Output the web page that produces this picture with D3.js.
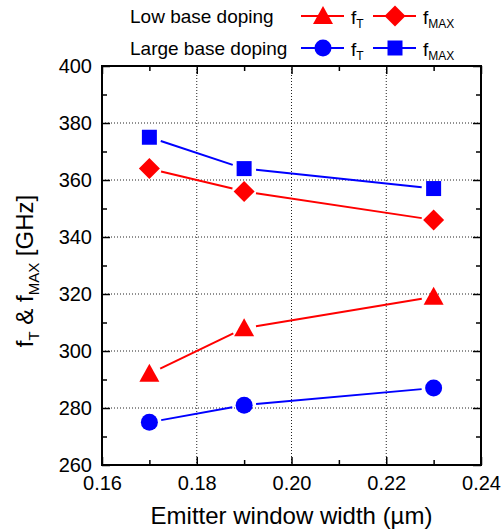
<!DOCTYPE html>
<html>
<head>
<meta charset="utf-8">
<script src="https://cdn.jsdelivr.net/npm/d3@7"></script>
<style>
  html, body { margin: 0; padding: 0; background: #fff; }
  svg { display: block; font-family: "Liberation Sans", Arial, sans-serif; }
</style>
</head>
<body>
<svg id="chart" width="502" height="532"></svg>
<script>
// Emitter window widths (µm)
const widths = [0.17, 0.19, 0.23];
// Cut-off and max oscillation frequencies (GHz)
const fTLow = [292, 308, 319];
const fMaxLow = [364, 356, 346];
const fTLarge = [275, 281, 287];
const fMaxLarge = [375, 364, 357];

const xTicks = [0.16, 0.18, 0.20, 0.22, 0.24];
const xMinor = [0.17, 0.19, 0.21, 0.23];
const yTicks = [260, 280, 300, 320, 340, 360, 380, 400];
const yMinor = [270, 290, 310, 330, 350, 370, 390];

const RED = "#ff0000", BLUE = "#0000ff";

const series = [
  { values: fTLow, color: RED, shape: "triangle" },
  { values: fMaxLow, color: RED, shape: "diamond" },
  { values: fTLarge, color: BLUE, shape: "circle" },
  { values: fMaxLarge, color: BLUE, shape: "square" }
];

const svg = d3.select("#chart");
const L = 102, R = 481, T = 66, B = 465;

const x = d3.scaleLinear().domain([0.16, 0.24]).range([L, R]);
const y = d3.scaleLinear().domain([260, 400]).range([B, T]);

// dotted grid at the interior major ticks
const grid = svg.append("g").attr("stroke", "#222").attr("stroke-width", 1)
  .attr("stroke-dasharray", "1,2").attr("fill", "none");
xTicks.slice(1, -1).forEach(v => {
  grid.append("line").attr("x1", x(v)).attr("x2", x(v)).attr("y1", T).attr("y2", B);
});
yTicks.slice(1, -1).forEach(v => {
  grid.append("line").attr("x1", L).attr("x2", R).attr("y1", y(v)).attr("y2", y(v));
});

// axes with inward ticks on all four sides
function axisGroup(axis, tx, ty) {
  const g = svg.append("g").attr("transform", `translate(${tx},${ty})`).call(axis);
  g.select(".domain").remove();
  g.selectAll("line").attr("stroke", "#000").attr("stroke-width", 1.5);
  return g;
}
const fmtX = d3.format(".2f");

// bottom
const gxB = axisGroup(d3.axisBottom(x).tickValues(xTicks).tickSize(-8).tickPadding(0).tickFormat(fmtX), 0, B);
gxB.selectAll("text").attr("font-size", 20).attr("fill", "#000")
  .attr("y", 25).attr("dy", 0).attr("font-family", "Liberation Sans, Arial, sans-serif");
axisGroup(d3.axisBottom(x).tickValues(xMinor).tickSize(-5).tickFormat(""), 0, B);
// top
axisGroup(d3.axisTop(x).tickValues(xTicks).tickSize(-8).tickFormat(""), 0, T);
axisGroup(d3.axisTop(x).tickValues(xMinor).tickSize(-5).tickFormat(""), 0, T);
// left
const gyL = axisGroup(d3.axisLeft(y).tickValues(yTicks).tickSize(-8).tickPadding(10), L, 0);
gyL.selectAll("text").attr("font-size", 20).attr("fill", "#000")
  .attr("x", -10).attr("font-family", "Liberation Sans, Arial, sans-serif");
axisGroup(d3.axisLeft(y).tickValues(yMinor).tickSize(-5).tickFormat(""), L, 0);
// right
axisGroup(d3.axisRight(y).tickValues(yTicks).tickSize(-8).tickFormat(""), R, 0);
axisGroup(d3.axisRight(y).tickValues(yMinor).tickSize(-5).tickFormat(""), R, 0);

// frame
svg.append("rect").attr("x", L).attr("y", T).attr("width", R - L).attr("height", B - T)
  .attr("fill", "none").attr("stroke", "#000").attr("stroke-width", 2);

// marker shapes centred on (0,0)
function markerPath(shape) {
  switch (shape) {
    case "triangle": return "M0,-10 L10,8 L-10,8 Z";
    case "diamond": return "M0,-10.5 L10.5,0 L0,10.5 L-10.5,0 Z";
    case "square": return "M-7.5,-7.5 H7.5 V7.5 H-7.5 Z";
    default: return null;
  }
}
function drawMarker(g, shape, cx, cy, color) {
  if (shape === "circle") {
    g.append("circle").attr("cx", cx).attr("cy", cy).attr("r", 8.5).attr("fill", color);
  } else {
    const dy = shape === "triangle" ? 0 : 0;
    g.append("path").attr("d", markerPath(shape))
      .attr("transform", `translate(${cx},${cy + dy})`).attr("fill", color);
  }
}

// data lines (segments stop short of the markers) and markers
const plot = svg.append("g");
const GAP = 12;
series.forEach(s => {
  const pts = widths.map((w, i) => [x(w), y(s.values[i])]);
  for (let i = 0; i < pts.length - 1; i++) {
    const [x1, y1] = pts[i], [x2, y2] = pts[i + 1];
    const len = Math.hypot(x2 - x1, y2 - y1);
    const ux = (x2 - x1) / len, uy = (y2 - y1) / len;
    plot.append("line")
      .attr("x1", x1 + ux * GAP).attr("y1", y1 + uy * GAP)
      .attr("x2", x2 - ux * GAP).attr("y2", y2 - uy * GAP)
      .attr("stroke", s.color).attr("stroke-width", 2);
  }
  pts.forEach(([px, py]) => drawMarker(plot, s.shape, px, py, s.color));
});

// axis titles
svg.append("text").attr("x", (L + R) / 2).attr("y", 524).attr("text-anchor", "middle")
  .attr("font-size", 24).attr("fill", "#000").text("Emitter window width (µm)");

const yt = svg.append("text").attr("transform", "translate(33,271) rotate(-90)")
  .attr("text-anchor", "middle").attr("font-size", 24).attr("fill", "#000");
yt.append("tspan").text("f");
yt.append("tspan").attr("font-size", 15).attr("dy", 6).text("T");
yt.append("tspan").attr("dy", -6).text(" & f");
yt.append("tspan").attr("font-size", 15).attr("dy", 6).text("MAX");
yt.append("tspan").attr("dy", -6).text(" [GHz]");

// legend
const legendRows = [
  { label: "Low base doping", y: 16, items: [series[0], series[1]] },
  { label: "Large base doping", y: 48, items: [series[2], series[3]] }
];
const legend = svg.append("g");
const itemX = [323, 395];
const itemNames = [["f", "T"], ["f", "MAX"]];
legendRows.forEach(row => {
  legend.append("text").attr("x", 130).attr("y", row.y + 7).attr("font-size", 19)
    .attr("fill", "#000").text(row.label);
  row.items.forEach((s, j) => {
    const cx = itemX[j];
    legend.append("line").attr("x1", cx - 22).attr("x2", cx + 21)
      .attr("y1", row.y).attr("y2", row.y).attr("stroke", s.color).attr("stroke-width", 2);
    drawMarker(legend, s.shape, cx, row.y, s.color);
    const t = legend.append("text").attr("x", cx + 28).attr("y", row.y + 8)
      .attr("font-size", 19).attr("fill", "#000");
    t.append("tspan").text(itemNames[j][0]);
    t.append("tspan").attr("font-size", 12).attr("dy", 4).text(itemNames[j][1]);
  });
});
</script>
</body>
</html>
